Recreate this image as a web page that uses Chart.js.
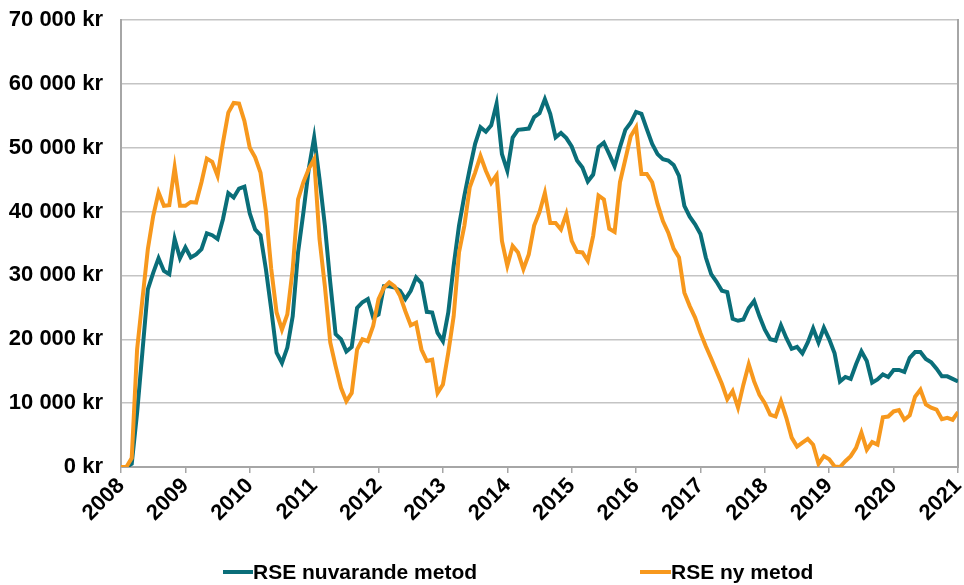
<!DOCTYPE html>
<html>
<head>
<meta charset="utf-8">
<script src="https://cdn.jsdelivr.net/npm/chart.js@4"></script>
<style>
    html, body { margin: 0; padding: 0; background: #fff; }
    #wrap { position: relative; width: 964px; height: 585px; }
    #chart { position: absolute; left: 0; top: 0; }
    .leg { position: absolute; top: 561px; font: bold 21px 'Liberation Sans', Arial, sans-serif; color: #000; line-height: 22px; white-space: nowrap; }
    .swatch { position: absolute; top: 570px; height: 4px; }
</style>
</head>
<body>
<div id="wrap">
    <canvas id="chart" width="964" height="585"></canvas>
    <div class="swatch" style="left:223px;width:30px;background:#0a6e79"></div>
    <div class="leg" style="left:253px">RSE nuvarande metod</div>
    <div class="swatch" style="left:640px;width:31px;background:#f7981d"></div>
    <div class="leg" style="left:671px">RSE ny metod</div>
</div>
<script>
// Monthly values, Jan 2008 .. Jan 2021 (157 months)
const yearLabels = ['2008','2009','2010','2011','2012','2013','2014','2015','2016','2017','2018','2019','2020','2021'];

const rseNuvarande = [
    0, 0, 500, 8500, 18100, 27800, 30400, 32700, 30700, 30200, 35700, 32700,
    34400, 32800, 33300, 34100, 36600, 36300, 35700, 38800, 42900, 42200, 43600, 43900,
    39700, 37200, 36300, 31000, 24700, 17900, 16300, 18700, 23600, 33600, 39900, 46700,
    51600, 45100, 37800, 28900, 20800, 20000, 18100, 18800, 24900, 25800, 26300, 23400,
    23900, 28300, 28300, 28100, 27600, 26300, 27600, 29700, 28800, 24300, 24200, 21000,
    19700, 24200, 31500, 37800, 42500, 46700, 50600, 53200, 52500, 53500, 56900, 49000,
    46400, 51600, 52800, 52900, 53000, 54800, 55400, 57600, 55300, 51600, 52300, 51500,
    50200, 48000, 46900, 44700, 45800, 50100, 50800, 49000, 47100, 50100, 52800, 53900,
    55600, 55300, 52900, 50600, 49000, 48200, 48000, 47300, 45600, 40900, 39200, 38000,
    36500, 32800, 30200, 29000, 27600, 27400, 23200, 22900, 23100, 24900, 26000, 23600,
    21500, 20000, 19800, 22200, 20200, 18500, 18800, 17800, 19500, 21700, 19500, 21800,
    20000, 17800, 13400, 14100, 13800, 16100, 18100, 16600, 13200, 13700, 14500, 14100,
    15200, 15200, 14900, 17100, 18000, 18000, 16900, 16400, 15400, 14200, 14200, 13800,
    13400
];

const rseNy = [
    0, 0, 1400, 18400, 26300, 34100, 39300, 43000, 40900, 41000, 46900, 40900,
    40900, 41500, 41400, 44600, 48300, 47800, 45600, 50800, 55500, 57000, 56900, 54200,
    50000, 48500, 46100, 40100, 31000, 24200, 21500, 23900, 31000, 41900, 44600, 46700,
    48200, 35700, 28300, 19500, 15800, 12400, 10300, 11600, 18400, 20000, 19700, 22100,
    26300, 28100, 28900, 28300, 26800, 24400, 22200, 22600, 18400, 16600, 16800, 11600,
    12900, 17900, 23600, 33600, 37800, 43800, 46100, 48700, 46400, 44500, 45700, 35400,
    31500, 34600, 33600, 31000, 33300, 37800, 39900, 42900, 38200, 38200, 37200, 39600,
    35400, 33700, 33600, 32300, 36200, 42500, 41900, 37300, 36800, 44600, 48200, 51800,
    53200, 45900, 45900, 44600, 41200, 38500, 36700, 34200, 32800, 27300, 25200, 23400,
    21000, 18900, 17000, 15000, 13000, 10600, 11900, 9300, 12900, 16100, 13400, 11300,
    10000, 8200, 7900, 10300, 7700, 4600, 3200, 3800, 4400, 3500, 500, 1700,
    1200, 100, 0, 900, 1700, 3000, 5400, 2700, 3900, 3500, 7800, 7900,
    8700, 8900, 7400, 8100, 11000, 12100, 9800, 9300, 9000, 7500, 7700, 7400,
    8600
];

const TEAL = '#0a6e79';
const ORANGE = '#f7981d';
const AXIS = '#a6a6a6';
const FONT = { family: "'Liberation Sans', Arial, sans-serif", size: 22, weight: 'bold' };

function krFormat(v) {
    return String(v).replace(/\B(?=(\d{3})+(?!\d))/g, ' ') + ' kr';
}

const toPoints = arr => arr.map((v, i) => ({ x: i, y: v }));

new Chart(document.getElementById('chart'), {
    type: 'line',
    data: {
        datasets: [
            {
                label: 'RSE nuvarande metod',
                data: toPoints(rseNuvarande),
                borderColor: TEAL,
                borderWidth: 4,
                pointRadius: 0,
                tension: 0,
                order: 1
            },
            {
                label: 'RSE ny metod',
                data: toPoints(rseNy),
                borderColor: ORANGE,
                borderWidth: 4,
                pointRadius: 0,
                tension: 0,
                order: 0
            }
        ]
    },
    options: {
        responsive: false,
        animation: false,
        layout: { padding: { top: 20, left: 0, right: 0, bottom: 0 } },
        plugins: { legend: { display: false }, tooltip: { enabled: false } },
        scales: {
            x: {
                type: 'linear',
                min: 0,
                max: 156,
                afterFit: s => { s.height = 118; s.paddingLeft = 0; s.paddingRight = 0; },
                ticks: {
                    stepSize: 12,
                    autoSkip: false,
                    maxRotation: 45,
                    minRotation: 45,
                    padding: 0,
                    color: '#000',
                    font: FONT,
                    callback: v => yearLabels[v / 12]
                },
                grid: { drawOnChartArea: false, drawTicks: true, tickLength: 6, color: AXIS, lineWidth: 1.5 },
                border: { display: true, color: AXIS, width: 2 }
            },
            y: {
                min: 0,
                max: 70000,
                afterFit: s => { s.width = 121; s.paddingTop = 0; s.paddingBottom = 0; },
                ticks: {
                    stepSize: 10000,
                    padding: 18,
                    color: '#000',
                    font: FONT,
                    callback: v => krFormat(v)
                },
                grid: { color: '#c4c4c4', lineWidth: 1.5, drawTicks: false },
                border: { display: true, color: AXIS, width: 2 }
            },
            y2: {
                position: 'right',
                min: 0,
                max: 70000,
                afterFit: s => { s.width = 6; s.paddingTop = 0; s.paddingBottom = 0; },
                ticks: { display: false },
                grid: { drawOnChartArea: false, drawTicks: false },
                border: { display: true, color: AXIS, width: 2 }
            }
        }
    }
});
</script>
</body>
</html>
